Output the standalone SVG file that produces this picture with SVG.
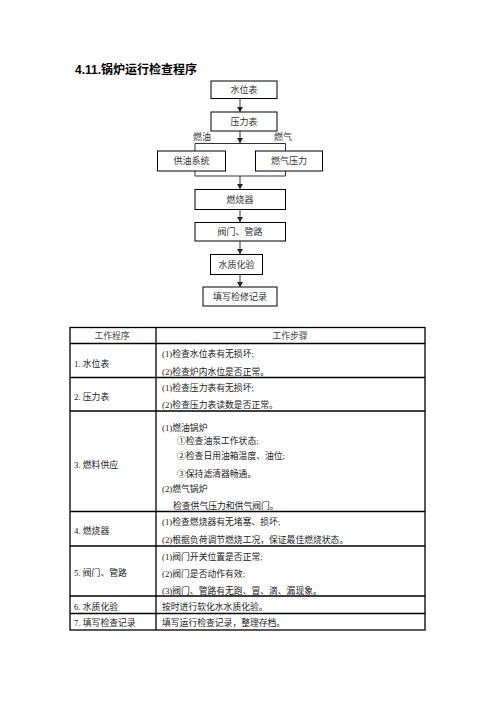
<svg xmlns="http://www.w3.org/2000/svg" width="496" height="702" viewBox="0 0 496 702">
<style>
.t{font-family:"Liberation Serif","Noto Sans CJK SC",serif;font-size:8.8px;fill:#222}
.h{font-family:"Liberation Serif","Noto Sans CJK SC",serif;font-size:8.8px;fill:#444;text-anchor:middle}
.b{font-family:"Liberation Serif","Noto Sans CJK SC",serif;font-size:9px;fill:#333;text-anchor:middle}
.box{fill:#fff;stroke:#000;stroke-width:1}
.ln{fill:none;stroke:#333;stroke-width:1}
.tb{fill:none;stroke:#000;stroke-width:1.3}
</style>
<defs>
<marker id="ah" markerWidth="6" markerHeight="6" refX="5" refY="3" orient="auto" markerUnits="userSpaceOnUse">
<path d="M0,0 L5,3 L0,6 Z" fill="#222"/>
</marker>
</defs>
<rect width="496" height="702" fill="#fff"/>
<text x="75" y="74" font-family="Liberation Sans,'Noto Sans CJK SC',sans-serif" font-size="12" font-weight="bold" fill="#000">4.11.锅炉运行检查程序</text>

<g id="connectors">
<line class="ln" x1="240" y1="98" x2="240" y2="112" marker-end="url(#ah)"/>
<line class="ln" x1="240" y1="131" x2="240" y2="143" marker-end="url(#ah)"/>
<polyline class="ln" points="195,151 195,143.5 285.5,143.5 285.5,151"/>
<polyline class="ln" points="195,171 195,176 285.5,176 285.5,171"/>
<line class="ln" x1="240" y1="176" x2="240" y2="189" marker-end="url(#ah)"/>
<line class="ln" x1="240" y1="209" x2="240" y2="222" marker-end="url(#ah)"/>
<line class="ln" x1="240" y1="241" x2="240" y2="254" marker-end="url(#ah)"/>
<line class="ln" x1="240" y1="274" x2="240" y2="287" marker-end="url(#ah)"/>
<text class="b" x="202" y="140">燃油</text>
<text class="b" x="283" y="140">燃气</text>
</g>

<g id="n1"><rect class="box" x="211" y="81" width="66" height="17.5"/><text class="b" x="244" y="93">水位表</text></g>
<g id="n2"><rect class="box" x="211" y="112" width="66" height="19"/><text class="b" x="244" y="124.5">压力表</text></g>
<g id="n3"><rect class="box" x="157.5" y="151" width="68" height="20"/><text class="b" x="191.5" y="164">供油系统</text></g>
<g id="n4"><rect class="box" x="255.5" y="151" width="67" height="20"/><text class="b" x="289" y="164">燃气压力</text></g>
<g id="n5"><rect class="box" x="195" y="189.5" width="90.5" height="20"/><text class="b" x="240" y="202.5">燃烧器</text></g>
<g id="n6"><rect class="box" x="195" y="222.5" width="90.5" height="18.5"/><text class="b" x="240" y="235">阀门、管路</text></g>
<g id="n7"><rect class="box" x="210.5" y="254.5" width="52" height="20"/><text class="b" x="236.5" y="267.5">水质化验</text></g>
<g id="n8"><rect class="box" x="203" y="287" width="74" height="19"/><text class="b" x="240" y="299.5">填写检修记录</text></g>

<g id="table">
<rect class="tb" x="70" y="327.5" width="355" height="302.5"/>
<line class="tb" x1="156" y1="327.5" x2="156" y2="630"/>
<line class="tb" x1="70" y1="343.5" x2="425" y2="343.5"/>
<line class="tb" x1="70" y1="377.5" x2="425" y2="377.5"/>
<line class="tb" x1="70" y1="411" x2="425" y2="411"/>
<line class="tb" x1="70" y1="511.5" x2="425" y2="511.5"/>
<line class="tb" x1="70" y1="546" x2="425" y2="546"/>
<line class="tb" x1="70" y1="596" x2="425" y2="596"/>
<line class="tb" x1="70" y1="613.5" x2="425" y2="613.5"/>

<text class="h" x="112" y="339">工作程序</text>
<text class="h" x="290" y="339">工作步骤</text>

<text class="t" x="74" y="367">1. 水位表</text>
<text class="t" x="162" y="357">(1)检查水位表有无损坏;</text>
<text class="t" x="162" y="375">(2)检查炉内水位是否正常。</text>

<text class="t" x="74" y="399.5">2. 压力表</text>
<text class="t" x="162" y="391">(1)检查压力表有无损坏;</text>
<text class="t" x="162" y="408">(2)检查压力表读数是否正常。</text>

<text class="t" x="74" y="467.5">3. 燃料供应</text>
<text class="t" x="162" y="431">(1)燃油锅炉</text>
<text class="t" x="177" y="443.5">①检查油泵工作状态;</text>
<text class="t" x="177" y="458.5">②检查日用油箱温度、油位;</text>
<text class="t" x="177" y="477">③保持滤清器畅通。</text>
<text class="t" x="162" y="492">(2)燃气锅炉</text>
<text class="t" x="173" y="509">检查供气压力和供气阀门。</text>

<text class="t" x="74" y="533.5">4. 燃烧器</text>
<text class="t" x="162" y="525">(1)检查燃烧器有无堵塞、损坏;</text>
<text class="t" x="162" y="543">(2)根据负荷调节燃烧工况，保证最佳燃烧状态。</text>

<text class="t" x="74" y="576">5. 阀门、管路</text>
<text class="t" x="162" y="560">(1)阀门开关位置是否正常;</text>
<text class="t" x="162" y="577">(2)阀门是否动作有效;</text>
<text class="t" x="162" y="593.5">(3)阀门、管路有无跑、冒、滴、漏现象。</text>

<text class="t" x="74" y="609.5">6. 水质化验</text>
<text class="t" x="162" y="609.5">按时进行软化水水质化验。</text>

<text class="t" x="74" y="626">7. 填写检查记录</text>
<text class="t" x="162" y="626">填写运行检查记录，整理存档。</text>
</g>
</svg>
